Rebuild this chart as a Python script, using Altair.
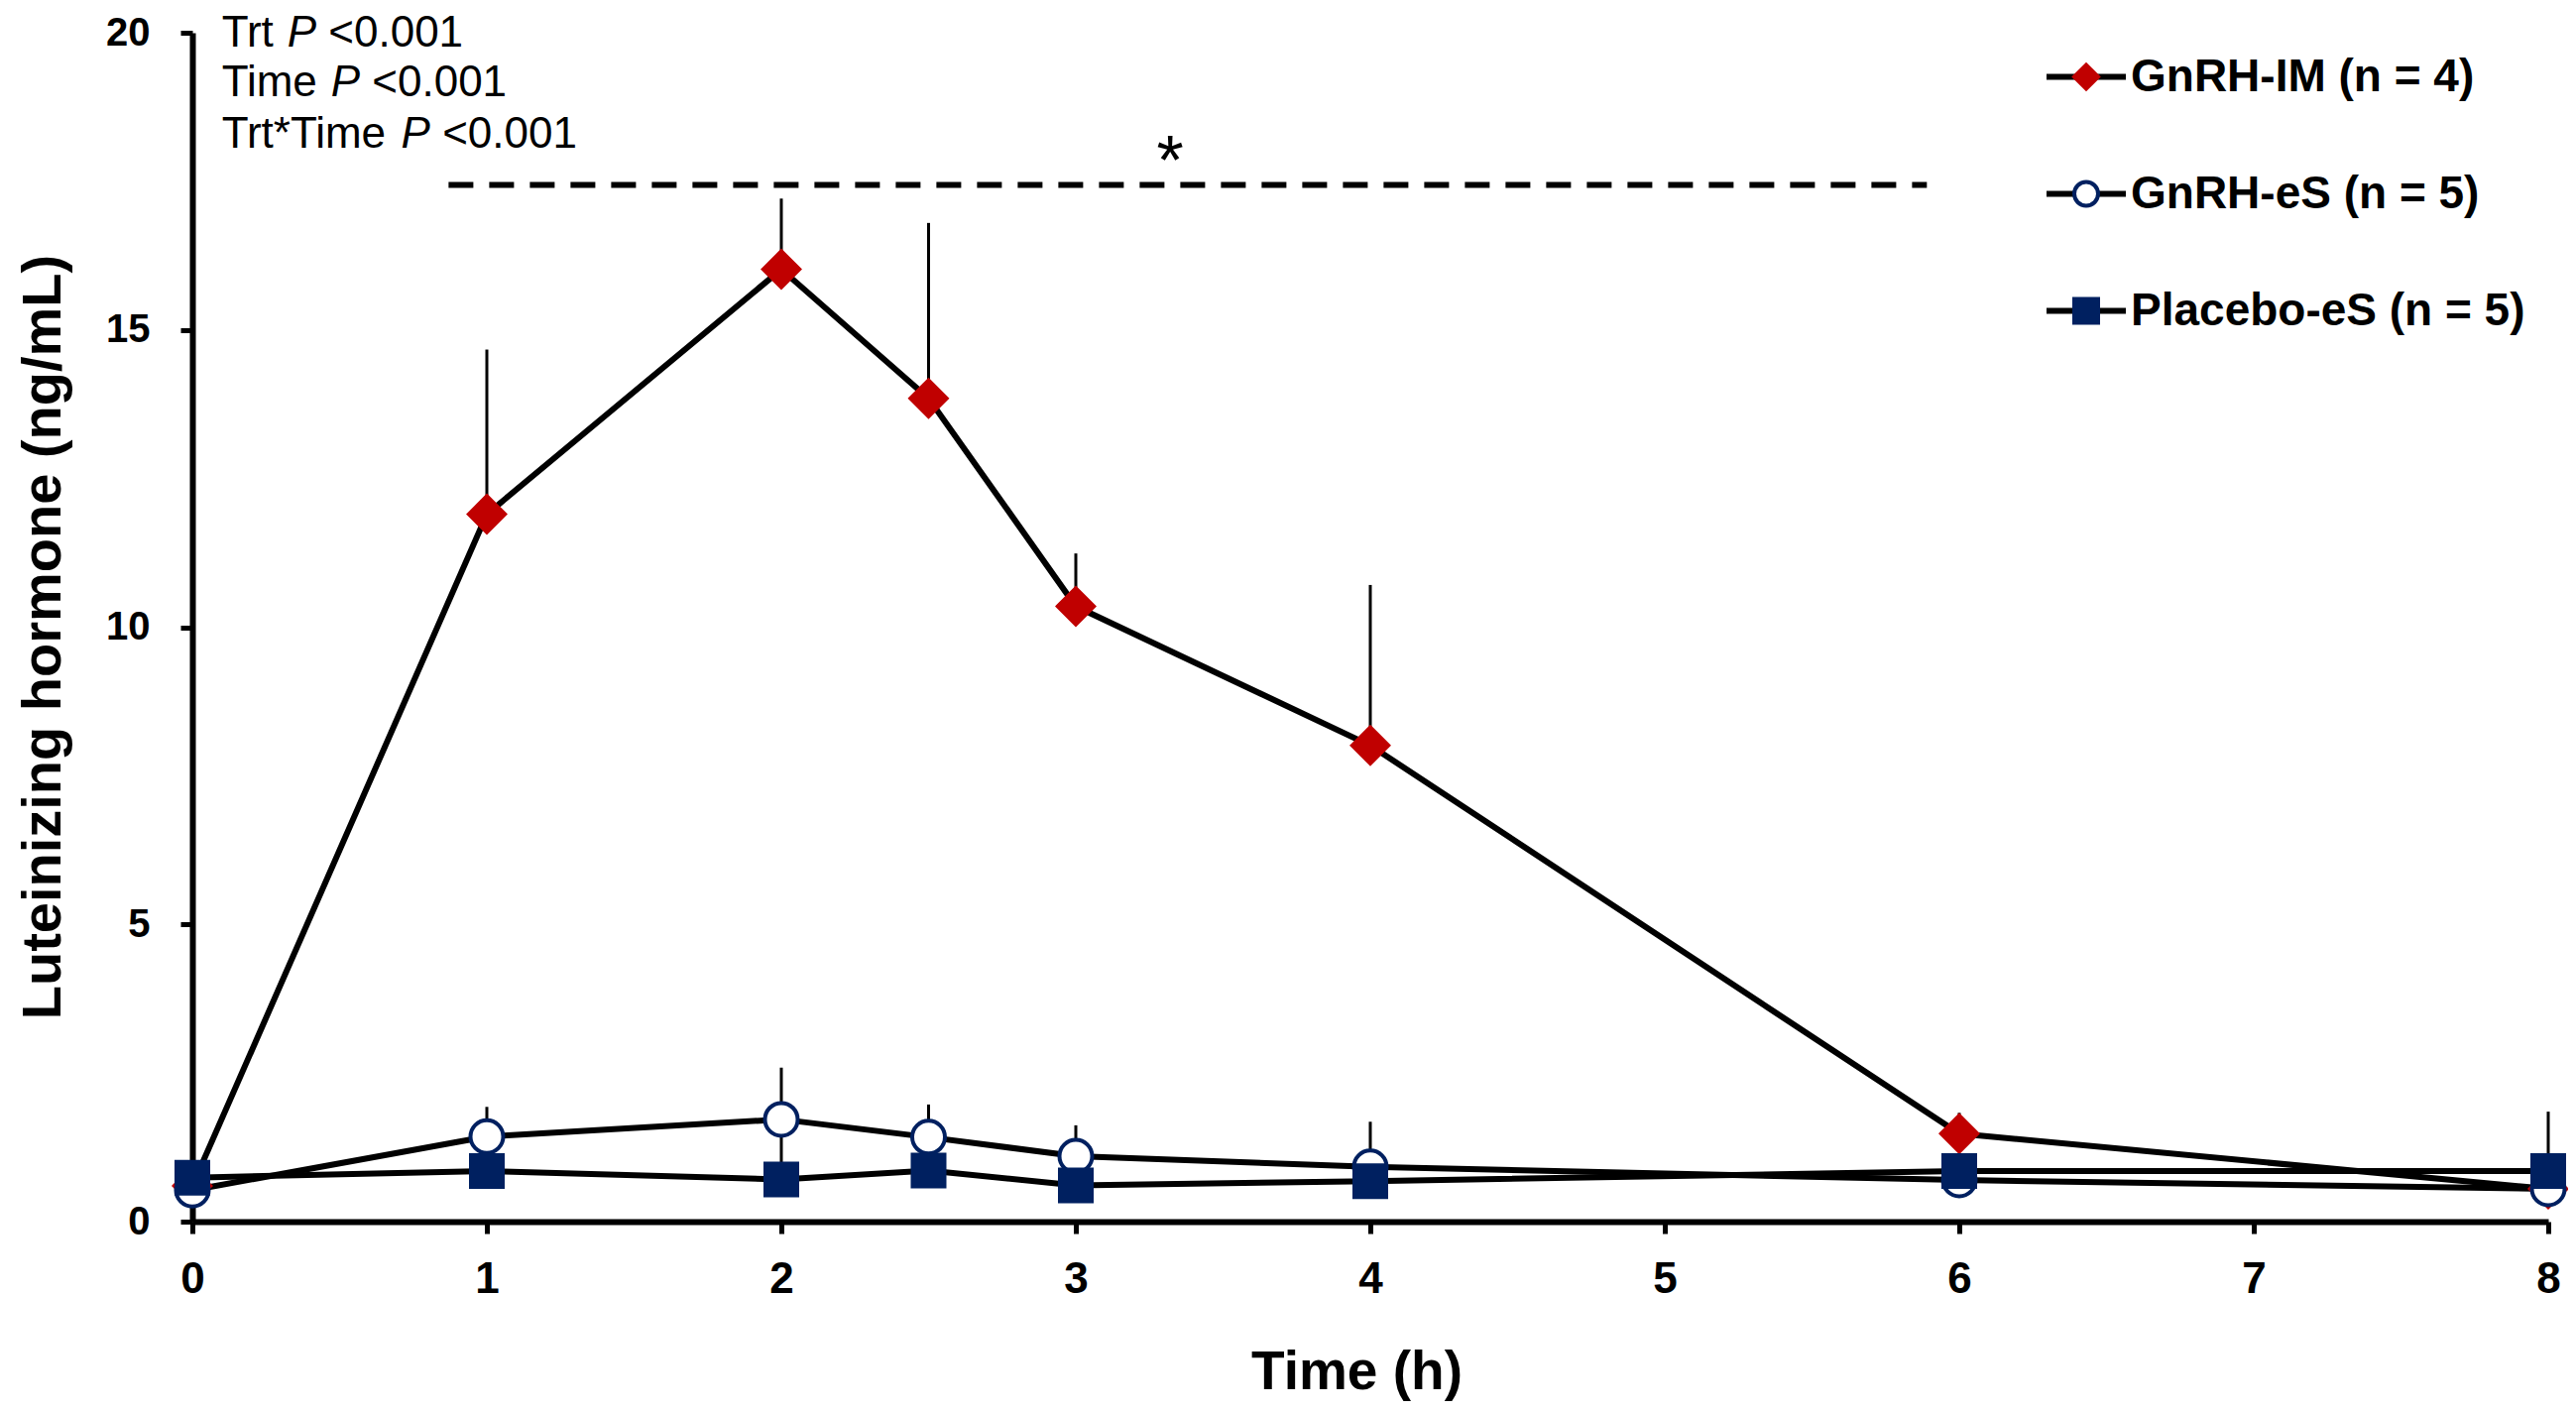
import altair as alt
import pandas as pd

# ---------------- data ----------------
time_h = [0, 1, 2, 2.5, 3, 4, 6, 8]
series_names = ["GnRH-IM (n = 4)", "GnRH-eS (n = 5)", "Placebo-eS (n = 5)"]

im_mean = [0.60, 11.90, 16.02, 13.85, 10.35, 8.01, 1.48, 0.55]
im_upper = [None, 14.67, 17.21, 16.80, 11.24, 10.71, 1.83, None]

es_mean = [0.53, 1.43, 1.72, 1.42, 1.10, 0.92, 0.70, 0.55]
es_upper = [None, 1.93, 2.59, 1.97, 1.62, 1.68, None, None]

pl_mean = [0.74, 0.85, 0.71, 0.86, 0.61, 0.68, 0.85, 0.85]
pl_upper = [None, None, 1.60, None, None, None, None, 1.85]

# significance bar and star
sig_x_start = [0.87]
sig_x_end = [5.89]
sig_y = [17.44]
star_x = [3.32]
star_y = [17.44]

# statistics annotation
ann_prefix = ["Trt", "Time", "Trt*Time"]
ann_x = [0.10, 0.10, 0.10]
ann_y = [19.76, 18.93, 18.07]
ann_p = "P"
ann_value = "<0.001"

x_ticks = [0, 1, 2, 3, 4, 5, 6, 7, 8]
y_ticks = [0, 5, 10, 15, 20]

# ---------------- tables ----------------
rows = []
for name, means, ups in [(series_names[0], im_mean, im_upper),
                         (series_names[1], es_mean, es_upper),
                         (series_names[2], pl_mean, pl_upper)]:
    for t, m, u in zip(time_h, means, ups):
        rows.append({"series": name, "series2": name, "time": t, "mean": m, "upper": u})
df = pd.DataFrame(rows)

sig_df = pd.DataFrame({"x1": sig_x_start, "x2": sig_x_end, "y": sig_y})
star_df = pd.DataFrame({"x": star_x, "y": star_y, "label": ["*"]})

FONT = "Liberation Sans"
ANN_SIZE = 44

# character widths (Arial metrics, em) for placing the italic P
W = {"T": .611, "r": .333, "t": .278, "*": .389, "i": .222, "m": .833,
     "e": .556, " ": .278, "P": .667}


def text_w(s):
    return sum(W[c] for c in s) * ANN_SIZE


xs = alt.Scale(domain=[0, 8], nice=False, zero=False)
ys = alt.Scale(domain=[0, 20], nice=False)

x_axis = alt.Axis(title="Time (h)", values=x_ticks, format="d", labelFontSize=44,
                  labelPadding=24, labelFlush=False, titleX=1174, titleY=168,
                  titleBaseline="alphabetic", titleFontSize=55)
y_axis = alt.Axis(title="Luteinizing hormone (ng/mL)", values=y_ticks, format="d",
                  labelFontSize=40, labelPadding=31, labelFlush=False, titleX=-134,
                  titleY=609, titleAngle=270, titleBaseline="alphabetic",
                  titleAlign="center", titleFontSize=56)

X = alt.X("time:Q", scale=xs, axis=x_axis)
Y = alt.Y("mean:Q", scale=ys, axis=y_axis)

base = alt.Chart(df)

pt_legend = alt.Legend(title=None, orient="none", legendX=1887, legendY=21.5, padding=0,
                       direction="vertical", symbolSize=576, symbolStrokeWidth=4,
                       labelFont=FONT, labelFontWeight="bold", labelFontSize=46,
                       labelColor="black", labelOffset=22, rowPadding=72, labelLimit=1000)
line_legend = alt.Legend(title=None, orient="none", legendX=1860, legendY=-5.5, padding=0,
                         direction="vertical", symbolType="stroke", symbolSize=6400,
                         symbolStrokeWidth=6, symbolStrokeColor="black",
                         labelFontSize=100, labelExpr="''", rowPadding=18, labelLimit=1000)

shape_scale = alt.Scale(domain=series_names, range=["diamond", "circle", "square"])
fill_scale = alt.Scale(domain=series_names, range=["#C00000", "#FFFFFF", "#002060"])
stroke_scale = alt.Scale(domain=series_names, range=["#C00000", "#002060", "#002060"])

errs = base.transform_filter("isValid(datum.upper)").mark_rule(
    color="black", strokeWidth=3
).encode(x=X, y=Y, y2="upper:Q")

lines = base.mark_line(strokeWidth=6).encode(
    x=X, y=Y,
    color=alt.Color("series2:N", scale=alt.Scale(range=["#000000", "#000000", "#000000"]),
                    legend=line_legend),
)

point_sizes = [1318, 1089, 1024]
points = []
for name, sz in zip(series_names, point_sizes):
    points.append(
        base.transform_filter(alt.datum.series == name).mark_point(
            size=sz, strokeWidth=4, opacity=1, fillOpacity=1
        ).encode(
            x=X, y=Y,
            shape=alt.Shape("series:N", scale=shape_scale, legend=pt_legend),
            fill=alt.Fill("series:N", scale=fill_scale, legend=pt_legend),
            stroke=alt.Stroke("series:N", scale=stroke_scale, legend=pt_legend),
        )
    )

sig = alt.Chart(sig_df).mark_rule(strokeDash=[25, 16], strokeWidth=6, color="black").encode(
    x=alt.X("x1:Q", scale=xs, axis=x_axis), x2="x2:Q",
    y=alt.Y("y:Q", scale=ys, axis=y_axis),
)
star = alt.Chart(star_df).mark_text(
    font=FONT, fontSize=70, color="black", baseline="alphabetic", align="center"
).encode(
    x=alt.X("x:Q", scale=xs, axis=x_axis), y=alt.Y("y:Q", scale=ys, axis=y_axis),
    text="label:N",
)

ann_layers = []
for pre, ax, ay in zip(ann_prefix, ann_x, ann_y):
    adf = pd.DataFrame({"x": [ax], "y": [ay], "pre": [pre], "p": [ann_p], "v": [ann_value]})
    enc = dict(x=alt.X("x:Q", scale=xs, axis=x_axis), y=alt.Y("y:Q", scale=ys, axis=y_axis))
    c = alt.Chart(adf)
    ann_layers.append(c.mark_text(font=FONT, fontSize=ANN_SIZE, color="black",
                                  align="left", baseline="alphabetic").encode(text="pre:N", **enc))
    ann_layers.append(c.mark_text(font=FONT, fontSize=ANN_SIZE, fontStyle="italic",
                                  color="black", align="left", baseline="alphabetic",
                                  dx=text_w(pre + " ")).encode(text="p:N", **enc))
    ann_layers.append(c.mark_text(font=FONT, fontSize=ANN_SIZE, color="black",
                                  align="left", baseline="alphabetic",
                                  dx=text_w(pre + " P ")).encode(text="v:N", **enc))

chart = alt.layer(errs, lines, *points, sig, star, *ann_layers).properties(
    width=2376, height=1199,
    autosize=alt.AutoSizeParams(type="none"),
    padding={"left": 186, "top": 25, "right": 20, "bottom": 183},
    background="white",
).configure_view(strokeWidth=0).configure_axis(
    grid=False, domainColor="black", domainWidth=6, tickColor="black", tickWidth=5,
    tickSize=12, labelFont=FONT, labelFontWeight="bold", labelColor="black",
    titleFont=FONT, titleFontWeight="bold", titleColor="black",
)

chart.save("out.html", embed_options={"renderer": "svg", "actions": False})
